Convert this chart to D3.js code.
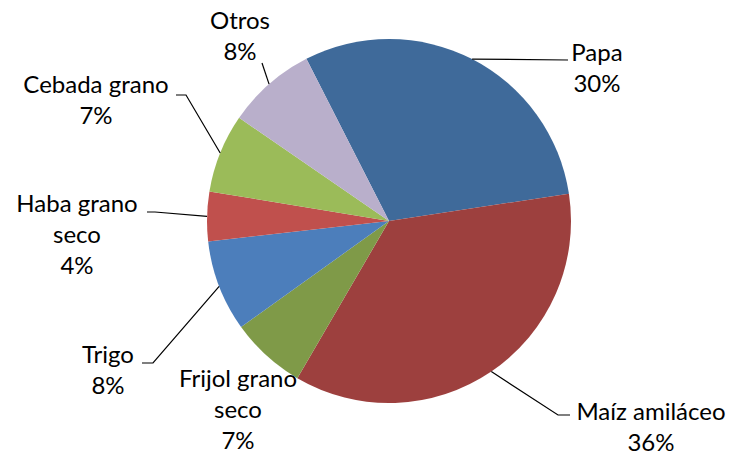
<!DOCTYPE html>
<html>
<head>
<meta charset="utf-8">
<script src="https://cdn.jsdelivr.net/npm/d3@7"></script>
<style>
  body { margin: 0; background: #fff; }
  text { font-family: Lato, "Open Sans", sans-serif; fill: #000; }
</style>
</head>
<body>
<svg width="731" height="455"></svg>
<script>
// data
const categories = ["Papa", "Maíz amiláceo", "Frijol grano seco", "Trigo", "Haba grano seco", "Cebada grano", "Otros"];
const values = [30.1, 35.8, 6.7, 8.1, 4.4, 7.0, 7.9];
const colors = ["#3F6A9A", "#9D403E", "#7F9A48", "#4C7EBB", "#C0504D", "#9BBB59", "#B9AFCB"];
// text lines of each label (last line is the percent)
const labelLines = [["Papa"], ["Maíz amiláceo"], ["Frijol grano", "seco"], ["Trigo"], ["Haba grano", "seco"], ["Cebada grano"], ["Otros"]];

// label layout: text centre x, first baseline, leader elbow and end
const labelPos = [
  {x: 597, y: 61, elbow: [568, 60], end: [568, 60]},
  {x: 651, y: 420, elbow: [558, 415], end: [570, 415]},
  {x: 238, y: 387, elbow: null, end: null},
  {x: 108, y: 363, elbow: [153, 363], end: [142, 363]},
  {x: 77, y: 212, elbow: [155, 212], end: [147, 212]},
  {x: 96, y: 93, elbow: [186, 95], end: [176, 95]},
  {x: 240, y: 29, elbow: [262, 63], end: [262, 63]}
];

var svg = d3.select("svg");
var cx = 389, cy = 221, r = 182;
var lineH = 31;

var pie = d3.pie()
  .sort(null)
  .value(d => d)
  .startAngle(-27 * Math.PI / 180)
  .endAngle(333 * Math.PI / 180);

var arcs = pie(values);
var arc = d3.arc().innerRadius(0).outerRadius(r);

var g = svg.append("g").attr("transform", `translate(${cx},${cy})`);

// slices
g.selectAll("path")
  .data(arcs)
  .enter()
  .append("path")
  .attr("d", arc)
  .attr("fill", (d, i) => colors[i]);

var total = d3.sum(values);

// leader lines
var leaders = svg.append("g");
arcs.forEach(function(d, i) {
  var p = labelPos[i];
  if (!p.elbow) return;
  var a = (d.startAngle + d.endAngle) / 2;
  var sx = cx + r * Math.sin(a), sy = cy - r * Math.cos(a);
  leaders.append("polyline")
    .attr("points", [[sx, sy], p.elbow, p.end].map(q => q.join(",")).join(" "))
    .attr("fill", "none")
    .attr("stroke", "#000")
    .attr("stroke-width", 1.2);
});

// labels
var labels = svg.append("g");
arcs.forEach(function(d, i) {
  var p = labelPos[i];
  var lines = labelLines[i].concat([Math.round(values[i] / total * 100) + "%"]);
  var t = labels.append("text")
    .attr("text-anchor", "middle")
    .attr("font-size", "24px");
  lines.forEach(function(s, j) {
    t.append("tspan")
      .attr("x", p.x)
      .attr("y", p.y + j * lineH)
      .text(s);
  });
});
</script>
</body>
</html>
